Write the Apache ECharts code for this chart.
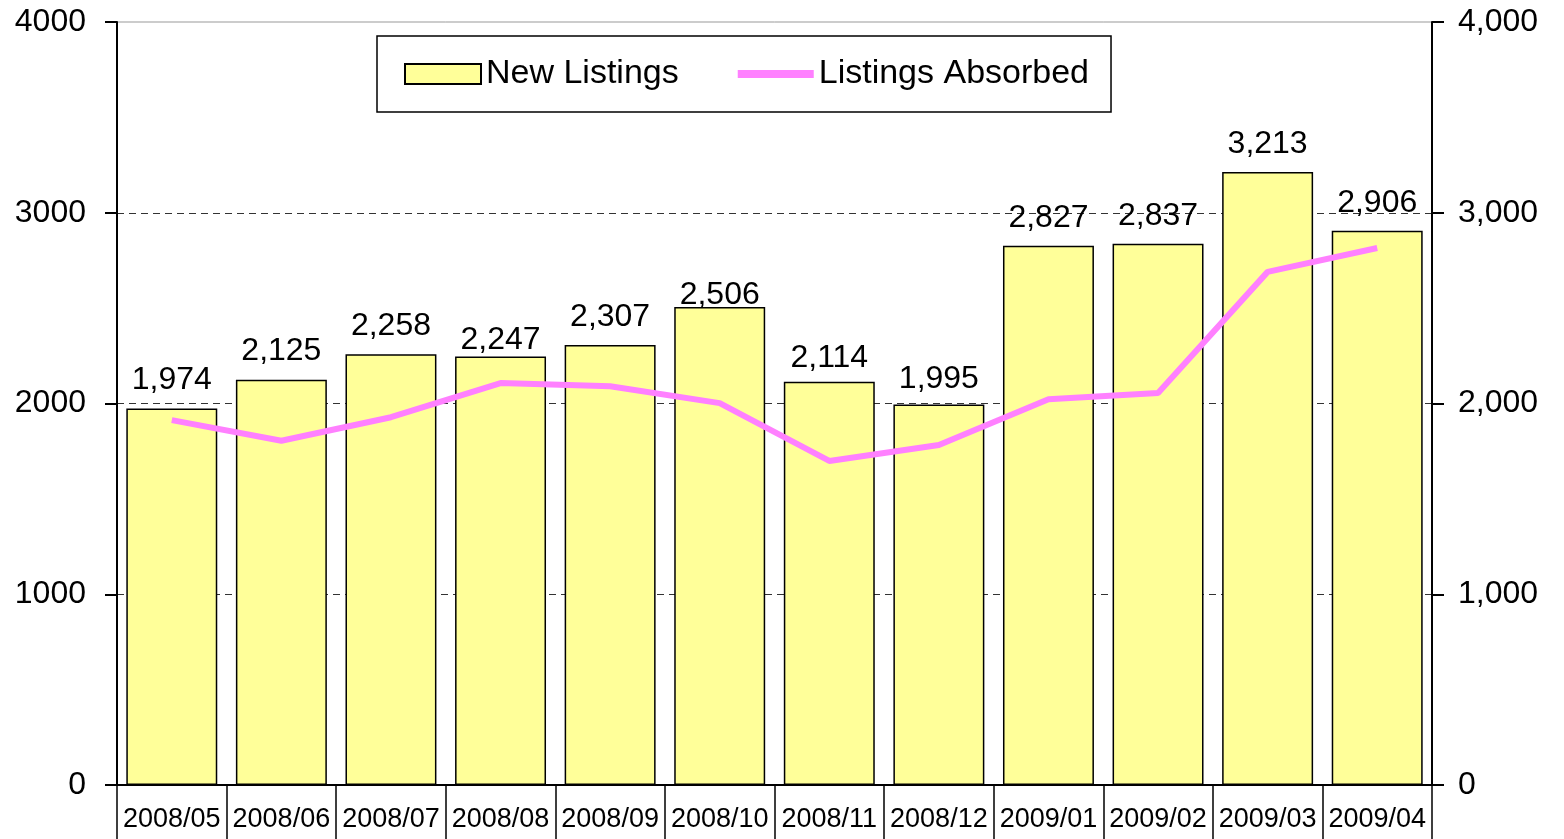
<!DOCTYPE html>
<html>
<head>
<meta charset="utf-8">
<script src="https://cdn.jsdelivr.net/npm/echarts@6/dist/echarts.min.js"></script>
<style>
  html, body { margin: 0; padding: 0; background: #fff; }
  #chart { width: 1564px; height: 839px; }
</style>
</head>
<body>
<div id="chart"></div>
<script>
// months on the x axis
var months = ["2008/05", "2008/06", "2008/07", "2008/08", "2008/09", "2008/10",
  "2008/11", "2008/12", "2009/01", "2009/02", "2009/03", "2009/04"];
// bars (labelled values)
var newListings = [1974, 2125, 2258, 2247, 2307, 2506, 2114, 1995, 2827, 2837, 3213, 2906];
// line
var absorbed = [1913, 1805, 1928, 2107, 2090, 2002, 1699, 1782, 2022, 2055, 2690, 2815];

var font = "'Liberation Sans', Arial, sans-serif";
// a few labels sit lower on their bar in the original
var labelDrop = { 3: 12, 5: 16, 6: 4, 7: 3 };

var chart = echarts.init(document.getElementById("chart"));

chart.setOption({
  animation: false,
  textStyle: { fontFamily: font },
  grid: {
    left: 117, right: 132, top: 22, bottom: 54,
    show: true, borderColor: "#999", borderWidth: 1
  },
  legend: {
    left: 377, top: 36,
    padding: [21, 22, 21, 27],
    itemGap: 55,
    itemWidth: 76, itemHeight: 20,
    borderColor: "#000", borderWidth: 1.5,
    backgroundColor: "#fff",
    textStyle: { fontSize: 34, color: "#000", fontFamily: font },
    data: [
      { name: "New Listings", icon: "rect" },
      {
        name: "Listings Absorbed",
        itemStyle: { opacity: 0 },
        lineStyle: { width: 8, color: "#FF80FF" }
      }
    ]
  },
  xAxis: {
    type: "category",
    data: months,
    axisLine: { lineStyle: { color: "#000", width: 2 } },
    axisTick: { show: true, length: 54, lineStyle: { color: "#000", width: 1.5 } },
    axisLabel: { color: "#000", fontSize: 27, margin: 21, interval: 0 }
  },
  yAxis: [
    {
      type: "value", min: 0, max: 4000, interval: 1000,
      axisLine: { show: true, lineStyle: { color: "#000", width: 2 } },
      axisTick: { show: true, length: 12, lineStyle: { color: "#000", width: 2 } },
      axisLabel: {
        color: "#000", fontSize: 32, margin: 31,
        formatter: function (v) { return String(v); }
      },
      splitLine: {
        show: true, showMinLine: false, showMaxLine: false,
        lineStyle: { color: "#333", width: 1, type: [7, 5] }
      }
    },
    {
      type: "value", min: 0, max: 4000, interval: 1000, position: "right",
      axisLine: { show: true, lineStyle: { color: "#000", width: 2 } },
      axisTick: { show: true, length: 12, lineStyle: { color: "#000", width: 2 } },
      axisLabel: {
        color: "#000", fontSize: 32, margin: 26,
        formatter: function (v) { return v.toLocaleString("en-US"); }
      },
      splitLine: { show: false }
    }
  ],
  series: [
    {
      name: "New Listings",
      type: "bar",
      data: newListings.map(function (v, i) {
        return labelDrop[i] ? { value: v, label: { distance: 12 - labelDrop[i] } } : v;
      }),
      barCategoryGap: "17%",
      itemStyle: { color: "#FFFF99", borderColor: "#000", borderWidth: 1.5 },
      label: {
        show: true, position: "top", distance: 12,
        color: "#000", fontSize: 32,
        formatter: function (p) { return p.value.toLocaleString("en-US"); }
      }
    },
    {
      name: "Listings Absorbed",
      type: "line",
      yAxisIndex: 1,
      data: absorbed,
      showSymbol: false,
      symbol: "none",
      lineStyle: { color: "#FF80FF", width: 6 },
      itemStyle: { color: "#FF80FF" },
      z: 3
    }
  ]
});
</script>
</body>
</html>
